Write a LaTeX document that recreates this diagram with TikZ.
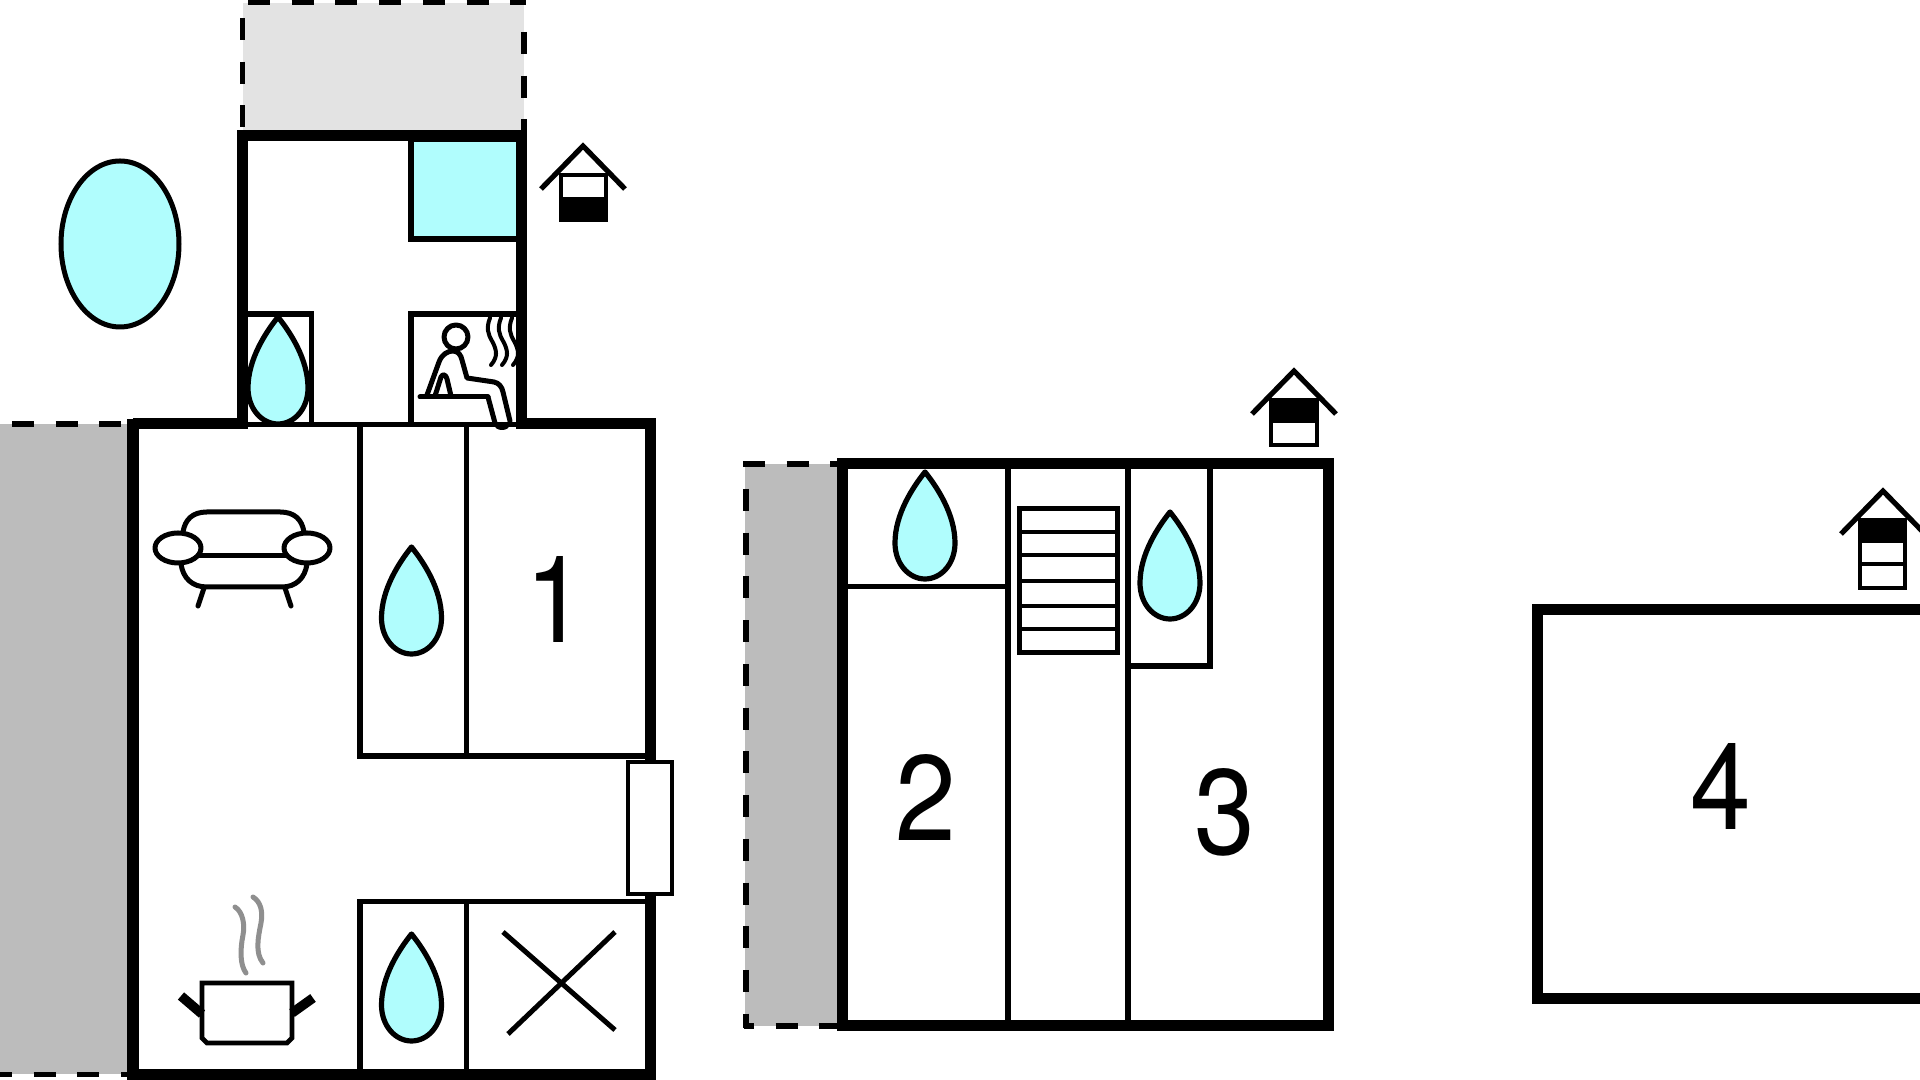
\documentclass[tikz,border=0pt]{standalone}
\usepackage{fontspec}
\setmainfont{TeX Gyre Heros}
\definecolor{aqua}{HTML}{B0FDFD}
\definecolor{terraceA}{HTML}{E3E3E3}
\definecolor{terraceB}{HTML}{BCBCBC}
\definecolor{steamgray}{HTML}{8F8F8F}
\tikzset{
  wall/.style={line width=1.1mm,line cap=butt,line join=miter},
  thinwall/.style={line width=.55mm,line join=miter},
  icon/.style={line width=.5mm,line cap=round,line join=round},
  dashline/.style={line width=.58mm,dash pattern=on 2.2mm off 2.17mm},
  numeral/.style={inner sep=0pt,xscale=.9,font=\fontsize{34.5}{34.5}\selectfont},
  drop/.pic={
    \path[draw=black,fill=aqua,line width=.52mm,line join=round]
      (0,0) .. controls (-12,15) and (-30,42) .. (-30,71)
      .. controls (-30,92) and (-16,107) .. (0,107)
      .. controls (16,107) and (30,92) .. (30,71)
      .. controls (30,42) and (12,15) .. (0,0) -- cycle;
  },
  roof/.pic={
    \draw[line width=.52mm,line cap=butt,line join=miter] (-42,43) -- (0,0) -- (42,43);
  }
}
\begin{document}
\begin{tikzpicture}[x=0.01cm,y=-0.01cm]
\useasboundingbox (0,0) rectangle (1920,1080);
\clip (0,0) rectangle (1920,1080);
\fill[white] (0,0) rectangle (1920,1080);

% terraces
\fill[terraceA] (243,3) rectangle (524,131);
\fill[terraceB] (0,424) rectangle (128,1074);
\fill[terraceB] (745,464) rectangle (838,1026);

% dashed outlines
\draw[dashline] (248,2.5) -- (526,2.5);
\draw[dashline] (242.5,18) -- (242.5,131);
\draw[dashline] (524,32) -- (524,131);
\draw[dashline] (12,424) -- (128,424);
\draw[dashline] (-10,1074.5) -- (128,1074.5);
\draw[dashline] (743,464) -- (838,464);
\draw[dashline] (746,489) -- (746,1028);
\draw[dashline,dash phase=1.2mm] (744,1026) -- (838,1026);

% annex: blue room and small rooms
\draw[thinwall,fill=aqua] (518,239) -- (411,239) -- (411,139) -- (518,139);
\draw[thinwall] (242,314) -- (311.5,314) -- (311.5,424);
\draw[thinwall] (411,424) -- (411,314) -- (518,314);

% sauna steam
\begin{scope}[line width=.4mm,line cap=round]
\foreach \d in {0,11,22}{
  \draw[shift={(\d,0)}] (490,318) .. controls (486,328) and (488,334) .. (492,341)
     .. controls (497,350) and (498,357) .. (491,365);
}
\end{scope}

% sauna person
\draw[icon] (456,337) circle (12);
\draw[icon] (420,397) -- (488,397);
\draw[icon] (427,395) -- (439,362) .. controls (442,354) and (448,351) .. (453,351)
   .. controls (458,351) and (461,355) .. (462,360) -- (467,378) -- (494,382)
   .. controls (499,383) and (502,387) .. (503,392) -- (510,421);
\draw[icon] (488,397) -- (495,423);
\draw[icon] (435,396) -- (441,377) .. controls (443,373) and (446,375) .. (447,379) -- (451,396);
\fill (502,426) ellipse (7 and 4);

% main house, walls
\draw[thinwall] (240,424.5) -- (520,424.5);
\draw[wall] (133,424) -- (243,424);
\draw[wall] (516,424) -- (650.5,424) -- (650.5,1075) -- (133,1075) -- (133,419);
\draw[wall] (242.5,429) -- (242.5,136) -- (521,136) -- (521,429);

% main house, inner rooms
\draw[thinwall] (360,424) -- (360,756) -- (648,756);
\draw[thinwall] (466.5,424) -- (466.5,756);
\draw[thinwall] (360,1072) -- (360,901.5) -- (648,901.5);
\draw[thinwall] (466.5,901.5) -- (466.5,1072);
\draw[line width=.5mm,line cap=butt] (503,932) -- (615,1030);
\draw[line width=.5mm,line cap=butt] (508,1034) -- (615,932);

% door
\draw[line width=.48mm,fill=white] (628,762) rectangle (672,894);

% sofa
\draw[icon] (183,532) .. controls (185,520) and (192,512) .. (207,512) -- (280,512)
   .. controls (295,512) and (302,520) .. (304,532);
\draw[icon] (178,548) ellipse (23 and 15);
\draw[icon] (307,548) ellipse (23 and 15);
\draw[icon] (200,556) -- (285,556);
\draw[icon] (181,564) .. controls (183,578) and (192,587) .. (207,587) -- (282,587)
   .. controls (296,587) and (305,578) .. (307,564);
\draw[icon] (204,588) -- (198,606);
\draw[icon] (285,588) -- (291,606);

% pot
\draw[line width=.48mm,line join=miter] (202,983) -- (292,983) -- (292,1038) -- (287,1043) -- (207,1043) -- (202,1038) -- cycle;
\draw[line width=.95mm,line cap=butt] (181,996) -- (202,1014);
\draw[line width=.95mm,line cap=butt] (313,998) -- (292,1013);
\draw[steamgray,line width=.5mm,line cap=round] (235,907) .. controls (243,912) and (245,925) .. (243,935)
   .. controls (240,950) and (240,965) .. (246,973);
\draw[steamgray,line width=.5mm,line cap=round] (253,897) .. controls (261,902) and (263,912) .. (261,923)
   .. controls (258,938) and (255,953) .. (263,963);

% pool
\draw[line width=.5mm,fill=aqua] (120,244) ellipse (59 and 83);

% drops
\pic at (278,317) {drop};
\pic at (411.5,547) {drop};
\pic at (411.5,934) {drop};
\pic at (925,472) {drop};
\pic at (1170,512) {drop};

% house 2 and 3 floor
\draw[wall] (837,464) -- (1328,464) -- (1328,1026) -- (842,1026) -- (842,459);
\draw[thinwall] (1008,464) -- (1008,1026);
\draw[thinwall] (1128,464) -- (1128,1026);
\draw[thinwall] (842,586.5) -- (1008,586.5);
\draw[thinwall] (1128,666) -- (1210,666) -- (1210,464);
\draw[line width=.5mm] (1019,509) rectangle (1117,653);
\foreach \y in {532,555,581,606,629}{
  \draw[line width=.38mm] (1019,\y) -- (1117,\y);
}

% house 4 floor
\draw[wall] (1930,609.5) -- (1537,609.5) -- (1537,998.5) -- (1930,998.5);

% floor icons
\pic at (583,146) {roof};
\draw[line width=.45mm,fill=white] (561,175) rectangle (606,220);
\fill (559,197) rectangle (608,221);

\pic at (1294,371) {roof};
\draw[line width=.45mm,fill=white] (1271,400) rectangle (1317,445);
\fill (1269,398) rectangle (1319,423);

\pic at (1883,491) {roof};
\draw[line width=.45mm,fill=white] (1860,520) rectangle (1905,588);
\fill (1858,518) rectangle (1907,543);
\draw[line width=.45mm] (1860,564) -- (1905,564);

% numerals
\node[numeral] (n1) at (556,600) {1};
\node[numeral] (n2) at (926,798) {2};
\node[numeral] (n3) at (1225,812) {3};
\node[numeral] (n4) at (1721,786) {4};
\end{tikzpicture}
\end{document}
